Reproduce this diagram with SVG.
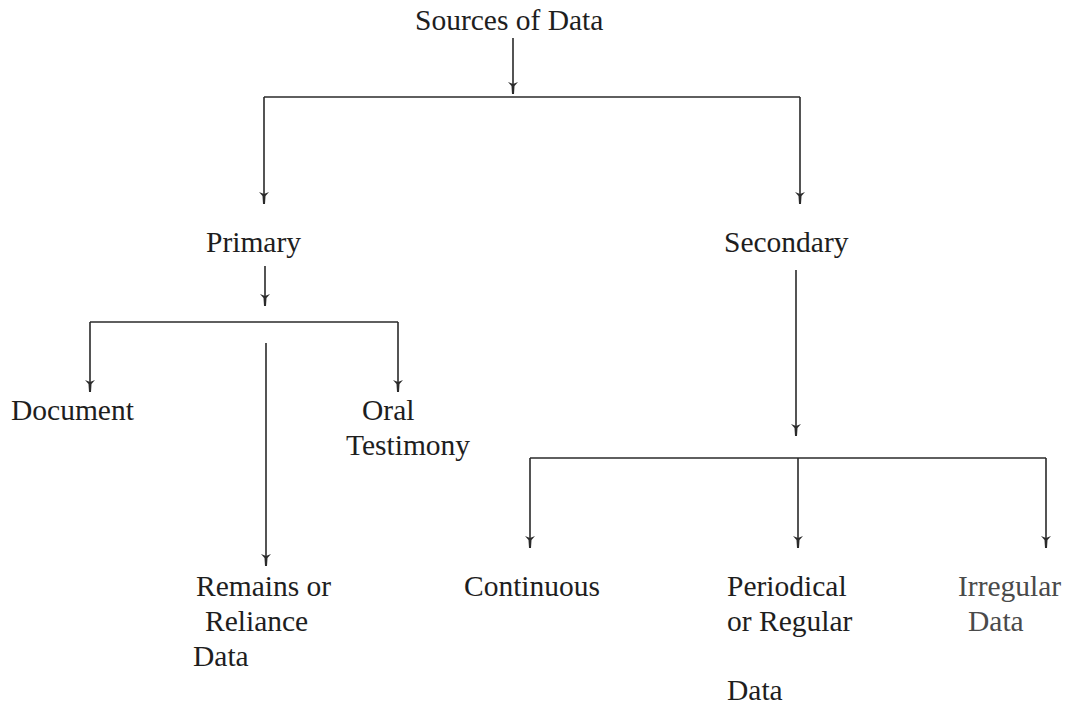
<svg xmlns="http://www.w3.org/2000/svg" width="1067" height="708" viewBox="0 0 1067 708">
<style>
.t{font-family:"Liberation Serif","Times New Roman",serif;font-size:29.5px;fill:#1e1e1e}
.g{fill:#4a4a4a}
.c line{stroke:#2a2a2a;stroke-width:1.6;fill:none}
.c .a{marker-end:url(#ah)}
</style>
<defs>
<marker id="ah" markerWidth="10" markerHeight="14" refX="5" refY="14" orient="0" markerUnits="userSpaceOnUse" viewBox="0 0 10 14">
<path d="M0,2 L5,4 L10,2 L6.5,6 L6,14 L4,14 L3.5,6 Z" fill="#2a2a2a"/>
</marker>
</defs>
<rect width="1067" height="708" fill="#fff"/>
<g class="c" id="connectors">
<line class="a" x1="513" y1="38" x2="513" y2="94"/>
<line x1="264" y1="97" x2="800" y2="97"/>
<line class="a" x1="264" y1="97" x2="264" y2="204"/>
<line class="a" x1="800" y1="97" x2="800" y2="204"/>
<line class="a" x1="265" y1="266" x2="265" y2="306"/>
<line x1="90" y1="322" x2="398" y2="322"/>
<line class="a" x1="90" y1="322" x2="90" y2="392"/>
<line class="a" x1="398" y1="322" x2="398" y2="392"/>
<line class="a" x1="266" y1="343" x2="266" y2="566"/>
<line class="a" x1="796" y1="270" x2="796" y2="436"/>
<line x1="530" y1="458" x2="1046" y2="458"/>
<line class="a" x1="530" y1="458" x2="530" y2="548"/>
<line class="a" x1="798" y1="458" x2="798" y2="548"/>
<line class="a" x1="1046" y1="458" x2="1046" y2="548"/>
</g>
<g id="sources"><text class="t" x="415" y="30">Sources of Data</text></g>
<g id="primary"><text class="t" x="206" y="252">Primary</text></g>
<g id="secondary"><text class="t" x="724" y="252">Secondary</text></g>
<g id="document"><text class="t" x="11" y="420">Document</text></g>
<g id="oral"><text class="t" x="362" y="420">Oral</text><text class="t" x="346" y="455">Testimony</text></g>
<g id="remains"><text class="t" x="196" y="596">Remains or</text><text class="t" x="205" y="631">Reliance</text><text class="t" x="193" y="666">Data</text></g>
<g id="continuous"><text class="t" x="464" y="596">Continuous</text></g>
<g id="periodical"><text class="t" x="727" y="596">Periodical</text><text class="t" x="727" y="631">or Regular</text><text class="t" x="727" y="700">Data</text></g>
<g id="irregular"><text class="t g" x="958" y="596">Irregular</text><text class="t g" x="968" y="631">Data</text></g>
</svg>
